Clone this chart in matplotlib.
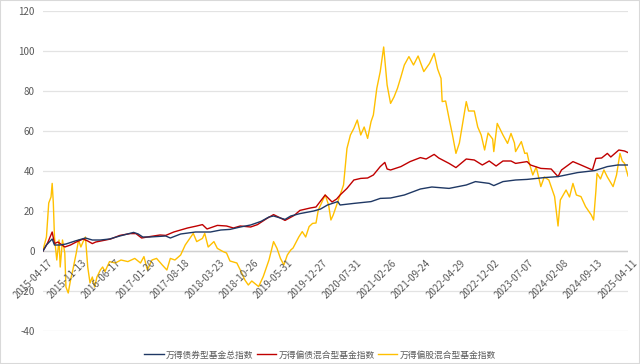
import matplotlib
matplotlib.use("Agg")
import matplotlib.pyplot as plt
from matplotlib.patches import Rectangle

plt.rcParams['font.family'] = ['Noto Sans CJK SC', 'DejaVu Sans']

# category labels (one label every 30 weekly points)
tick_labels = ["2015-04-17", "2015-11-13", "2016-06-17", "2017-01-20", "2017-08-18",
               "2018-03-23", "2018-10-26", "2019-05-31", "2019-12-27", "2020-07-31",
               "2021-02-26", "2021-09-24", "2022-04-29", "2022-12-02", "2023-07-07",
               "2024-02-08", "2024-09-13", "2025-04-11"]
tick_step = 30

series_names = ["万得债券型基金总指数", "万得偏债混合型基金指数", "万得偏股混合型基金指数"]

# 万得债券型基金总指数 (week index, value)
bond_weeks = [0, 3, 8, 10, 15, 20, 28, 37, 43, 50, 58, 67, 79, 83, 87, 93, 107, 111, 120,
              133, 146, 155, 163, 172, 181, 190, 197, 201, 211, 216, 224, 236, 242, 248,
              257, 259, 271, 286, 294, 303, 315, 329, 339, 354, 369, 377, 389, 393, 401,
              412, 422, 437, 449, 466, 481, 492, 501, 510]
bond_vals = [0, 3, 6, 3, 3, 3.5, 5, 6.5, 5.5, 5.5, 6, 7.5, 9.3, 8.5, 7, 7, 7.5, 6.5, 8.5,
             9.5, 9.5, 10.5, 10.8, 12, 13, 14.8, 17, 17.5, 15.8, 17.5, 18.7, 20, 21, 23,
             24.7, 23, 23.8, 24.7, 26.3, 26.5, 28, 31, 32, 31.3, 33, 34.7, 33.8, 32.7, 34.7,
             35.5, 35.8, 36.7, 37.2, 39.2, 40.2, 42.2, 43, 43]

# 万得偏债混合型基金指数
mixbond_weeks = [0, 4, 8, 10, 13, 19, 24, 29, 35, 39, 43, 46, 53, 59, 67, 76, 81, 86, 93,
                 102, 107, 114, 126, 134, 139, 143, 152, 160, 166, 172, 181, 187, 195, 201,
                 207, 211, 219, 224, 233, 238, 242, 246, 252, 256, 259, 265, 271, 277, 283,
                 288, 294, 298, 300, 303, 312, 320, 329, 334, 341, 345, 354, 360, 369, 376,
                 383, 389, 395, 401, 408, 412, 422, 425, 434, 443, 449, 452, 462, 469, 479,
                 482, 487, 492, 495, 502, 507, 510]
mixbond_vals = [0, 4, 9.5, 3.7, 4.5, 2, 3, 4.5, 6, 5, 3.7, 4.5, 5.3, 6, 7.8, 8.7, 8.7, 6.5, 7.2,
                8, 7.8, 9.5, 11.5, 12.5, 13.2, 11, 12.8, 12.5, 11.5, 12.5, 12, 13.2, 16.2, 18.2,
                16.5, 15.3, 17.8, 20.3, 21.5, 22, 25, 28, 24.5, 26, 28, 31.3, 35.5, 36.3, 36.5,
                38, 42.2, 44.3, 41, 40.5, 42.2, 44.7, 46.7, 46, 48.3, 46.5, 43.8, 41.7, 46, 45.5,
                43, 45, 42.5, 45, 45, 43.8, 44.7, 43, 41.3, 41, 37.2, 40.5, 44.7, 43, 40.5,
                46.3, 46.5, 48.8, 47, 50.5, 50, 49.2]

# 万得偏股混合型基金指数
mixstock_weeks = [0, 3, 5, 7, 8, 9, 10, 12, 14, 15, 17, 19, 20, 22, 24, 26, 29, 31, 33, 35,
                  37, 39, 41, 43, 45, 47, 50, 52, 54, 58, 63, 68, 74, 80, 85, 88, 91, 95, 99,
                  104, 108, 111, 115, 120, 124, 128, 131, 134, 139, 141, 144, 149, 152, 157,
                  160, 163, 169, 172, 176, 179, 182, 188, 192, 197, 201, 204, 207, 210, 213,
                  216, 218, 223, 226, 229, 232, 235, 238, 240, 242, 246, 249, 251, 253, 258,
                  262, 265, 268, 271, 274, 277, 280, 283, 286, 288, 291, 294, 297, 300, 303,
                  306, 309, 312, 315, 319, 323, 327, 332, 337, 341, 344, 347, 348, 351, 354,
                  357, 360, 363, 369, 371, 376, 379, 382, 385, 388, 392, 393, 396, 401, 405,
                  408, 411, 412, 417, 420, 422, 424, 427, 430, 432, 434, 437, 441, 446, 449,
                  451, 456, 459, 462, 465, 469, 473, 478, 480, 482, 483, 486, 489, 492, 497,
                  500, 503, 505, 507, 510]
mixstock_vals = [0.5, 7, 24, 27, 33.8, 24, 7, -4.5, 5.5, -8, 5.5, -1, -18, -21, -14.5, -9.5,
                 -1, 5.5, 2, 4.7, 7, -8, -16, -13, -18, -13, -9.5, -8, -10.3, -5.3, -6, -4.5,
                 -5.3, -3.7, -6, -2.8, -9.5, -4.5, -3.7, -7, -9.5, -3.7, -4.5, -2, 3, 6.3, 8.8,
                 4.7, 6.3, 8.8, 2, 4.7, 1.3, -0.3, -1, -5, -6, -9.5, -14.5, -17, -15, -17.8,
                 -12.8, -4.5, 4.7, 1.3, -3.7, -7, -2, 0.5, 1.5, 7, 9.7, 7, 12.2, 13.8, 14, 20.5,
                 23, 28, 23, 15.5, 18, 26.3, 33, 51.3, 58, 61.3, 65.5, 58, 62, 56.3, 64.7, 68,
                 81.3, 89.7, 102, 83, 73.8, 77, 81.3, 87, 93, 97.2, 93, 97.5, 89.7, 93.8, 98.8,
                 91, 86.3, 74.7, 75, 66.3, 58, 48.8, 54, 74.7, 70, 70, 62, 58, 50.5, 59, 56,
                 49.7, 63.8, 58, 53.8, 58.8, 54, 49.7, 54.7, 48.8, 49, 43.8, 38, 42, 37.2, 32.2,
                 37, 35.5, 27.2, 12.5, 25.5, 30.5, 27, 33.8, 28, 27.2, 22.2, 18, 15.5, 30, 38.8,
                 36, 40.5, 37, 32.2, 38, 48.8, 45, 43.8, 37.5]

y_ticks = [-40, -20, 0, 20, 40, 60, 80, 100, 120]

colors = ["#1f3864", "#c00000", "#ffc000"]
text_color = "#595959"
grid_color = "#e3e3e3"

fig = plt.figure(figsize=(6.4, 3.64), dpi=100)
ax = fig.add_axes([43 / 640, 1 - 331 / 364, 585 / 640, 320 / 364])

for yv in y_ticks:
    ax.axhline(yv, color=grid_color, lw=0.9, zorder=0)
ax.axhline(0, color="#d0d0d0", lw=1.0, zorder=0)

ax.plot(bond_weeks, bond_vals, color=colors[0], lw=1.0, label=series_names[0], zorder=3)
ax.plot(mixbond_weeks, mixbond_vals, color=colors[1], lw=1.0, label=series_names[1], zorder=2)
ax.plot(mixstock_weeks, mixstock_vals, color=colors[2], lw=1.0, label=series_names[2], zorder=1)

n_last = tick_step * (len(tick_labels) - 1)
ax.set_xlim(0, n_last)
ax.set_ylim(-40, 120)
ax.set_yticks(y_ticks)
ax.set_yticklabels([str(v) for v in y_ticks])
ax.tick_params(axis='y', length=0, pad=6, labelsize=7, labelcolor=text_color)
ax.set_xticks([])
for s in ax.spines.values():
    s.set_visible(False)

for i, lab in enumerate(tick_labels):
    ax.annotate(lab, xy=(i * tick_step, 0), xycoords='data',
                xytext=(3, -5), textcoords='offset points',
                rotation=45, rotation_mode='anchor', ha='right', va='top',
                fontsize=7, color=text_color)

fig.legend(loc='center', bbox_to_anchor=(0.5, 1 - 355 / 364), ncol=3, frameon=False,
           fontsize=6.3, handlelength=2.2, handletextpad=0.25, columnspacing=0.4,
           labelcolor=text_color)

fig.patches.append(Rectangle((0, 0), 1, 1, transform=fig.transFigure, fill=False,
                             edgecolor="#d9d9d9", lw=1.5))

fig.savefig("out.png", dpi=100)
